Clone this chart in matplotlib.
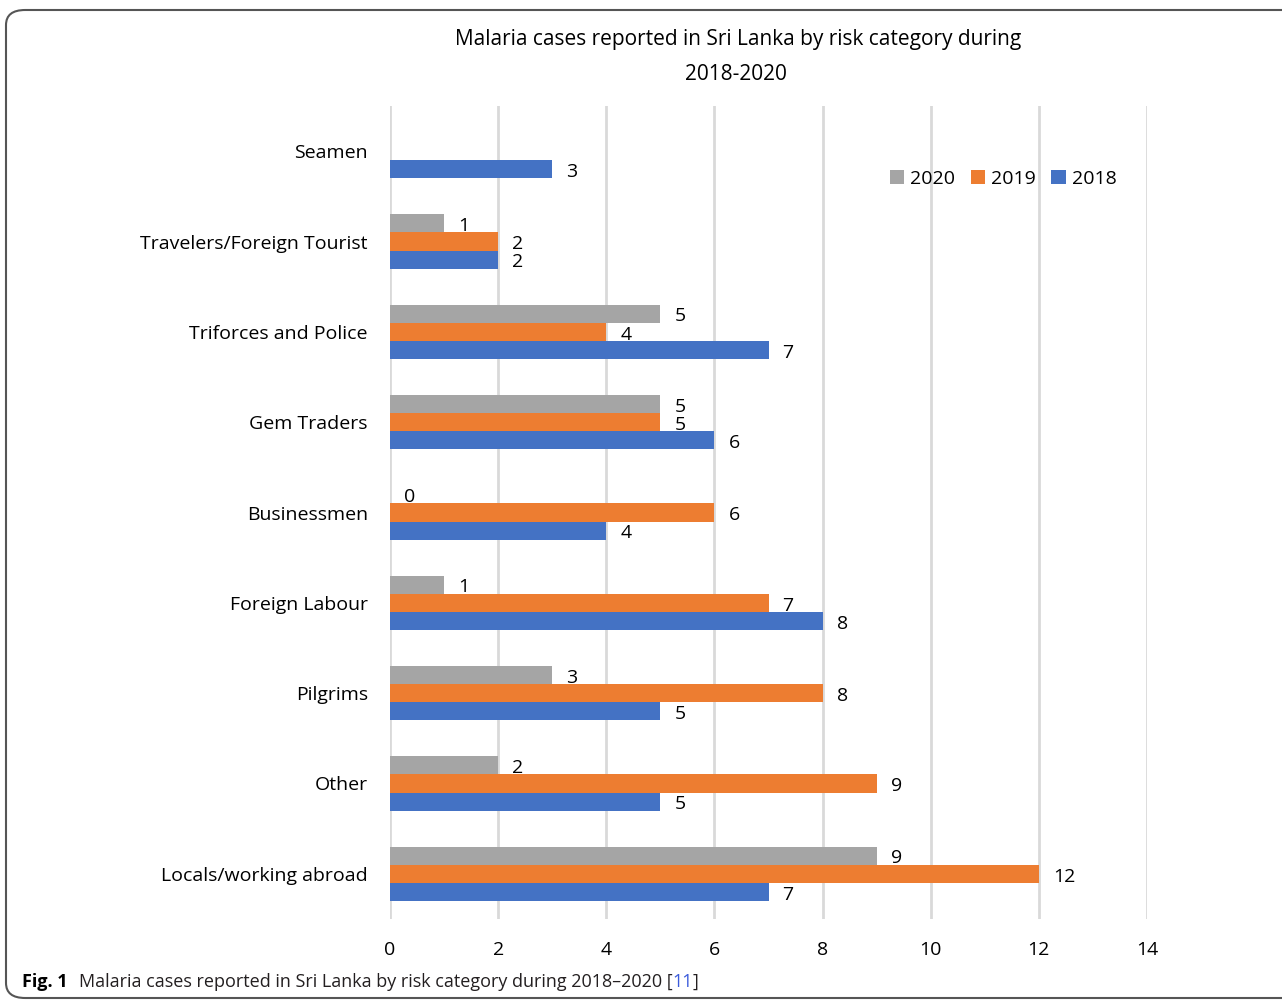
import numpy as np
import matplotlib
matplotlib.use("Agg")
import matplotlib.pyplot as plt
from matplotlib.patches import FancyBboxPatch, Patch
from matplotlib import font_manager

categories = ["Seamen", "Travelers/Foreign Tourist", "Triforces and Police", "Gem Traders",
              "Businessmen", "Foreign Labour", "Pilgrims", "Other", "Locals/working abroad"]
v2020 = [np.nan, 1, 5, 5, 0, 1, 3, 2, 9]
v2019 = [np.nan, 2, 4, 5, 6, 7, 8, 9, 12]
v2018 = [3, 2, 7, 6, 4, 8, 5, 5, 7]
series_names = ["2020", "2019", "2018"]
colors = ["#A5A5A5", "#ED7D31", "#4472C4"]
xticks = [0, 2, 4, 6, 8, 10, 12, 14]

names = {f.name for f in font_manager.fontManager.ttflist}
main_font = "Open Sans" if "Open Sans" in names else "DejaVu Sans"
cap_font = "Liberation Sans Narrow" if "Liberation Sans Narrow" in names else main_font
cap_size = 14 if cap_font == "Liberation Sans Narrow" else 13
plt.rcParams['font.family'] = [main_font, 'DejaVu Sans']

W, H = 1282, 1002
fig = plt.figure(figsize=(W / 100, H / 100), dpi=100)

# axes placement in pixel coords
x0, x1 = 390, 1147
y_top, y_bot = 106, 919
ax = fig.add_axes([x0 / W, 1 - y_bot / H, (x1 - x0) / W, (y_bot - y_top) / H])

n = len(categories)
ypos = np.arange(n)
bh = 0.2
offsets = [-bh, 0, bh]
series = [v2020, v2019, v2018]
for vals, off, col, name in zip(series, offsets, colors, series_names):
    ax.barh(ypos + off, vals, height=bh, color=col, label=name, zorder=3)
    for y, v in zip(ypos, vals):
        if np.isnan(v):
            continue
        ax.text(v + 0.26, y + off + 0.03, f"{int(v)}", va="center", ha="left",
                fontsize=14, color="#000000", zorder=4)

ax.set_xlim(0, 14)
ax.set_ylim(n - 0.5, -0.5)
ax.set_xticks(xticks)
ax.set_xticklabels([str(t) for t in xticks], fontsize=14)
ax.set_yticks(ypos)
ax.set_yticklabels(categories, fontsize=14)
ax.tick_params(axis="x", length=0, pad=15.5)
ax.tick_params(axis="y", length=0, pad=16)
for s in ax.spines.values():
    s.set_visible(False)
ax.grid(axis="x", color="#D9D9D9", linewidth=2, zorder=0)
ax.set_axisbelow(True)

handles = [Patch(facecolor=c, edgecolor="none") for c in colors]
fig.legend(handles, series_names, loc="center", bbox_to_anchor=(1003 / W, 1 - 179 / H),
           ncol=3, frameon=False, fontsize=14, handlelength=0.75, handleheight=0.75,
           handletextpad=0.3, columnspacing=0.8)

fig.text(738 / W, 1 - 40 / H, "Malaria cases reported in Sri Lanka by risk category during",
         ha="center", va="center", fontsize=15)
fig.text(736 / W, 1 - 75 / H, "2018-2020", ha="center", va="center", fontsize=15)

# rounded border
border = FancyBboxPatch((6 / W, 1 - 998 / H), (W + 40) / W, (998 - 10) / H,
                        boxstyle="round,pad=0,rounding_size=0.015",
                        transform=fig.transFigure, facecolor="none",
                        edgecolor="#555555", linewidth=1.5, clip_on=False)
fig.add_artist(border)

# caption
cy = 1 - 982 / H
t1 = fig.text(22 / W, cy, "Fig. 1", ha="left", va="center", fontsize=cap_size,
              fontweight="bold", family=[cap_font, 'DejaVu Sans'])
fig.canvas.draw()
bb = t1.get_window_extent()
t2 = fig.text((bb.x1 + 11) / W, cy,
              "Malaria cases reported in Sri Lanka by risk category during 2018\u20132020 [",
              ha="left", va="center", fontsize=cap_size, family=[cap_font, 'DejaVu Sans'],
              color="#231F20")
fig.canvas.draw()
bb = t2.get_window_extent()
t3 = fig.text(bb.x1 / W, cy, "11", ha="left", va="center", fontsize=cap_size,
              family=[cap_font, 'DejaVu Sans'], color="#3B5BDB")
fig.canvas.draw()
bb = t3.get_window_extent()
fig.text(bb.x1 / W, cy, "]", ha="left", va="center", fontsize=cap_size,
         family=[cap_font, 'DejaVu Sans'], color="#231F20")

fig.savefig("out.png", dpi=100)
